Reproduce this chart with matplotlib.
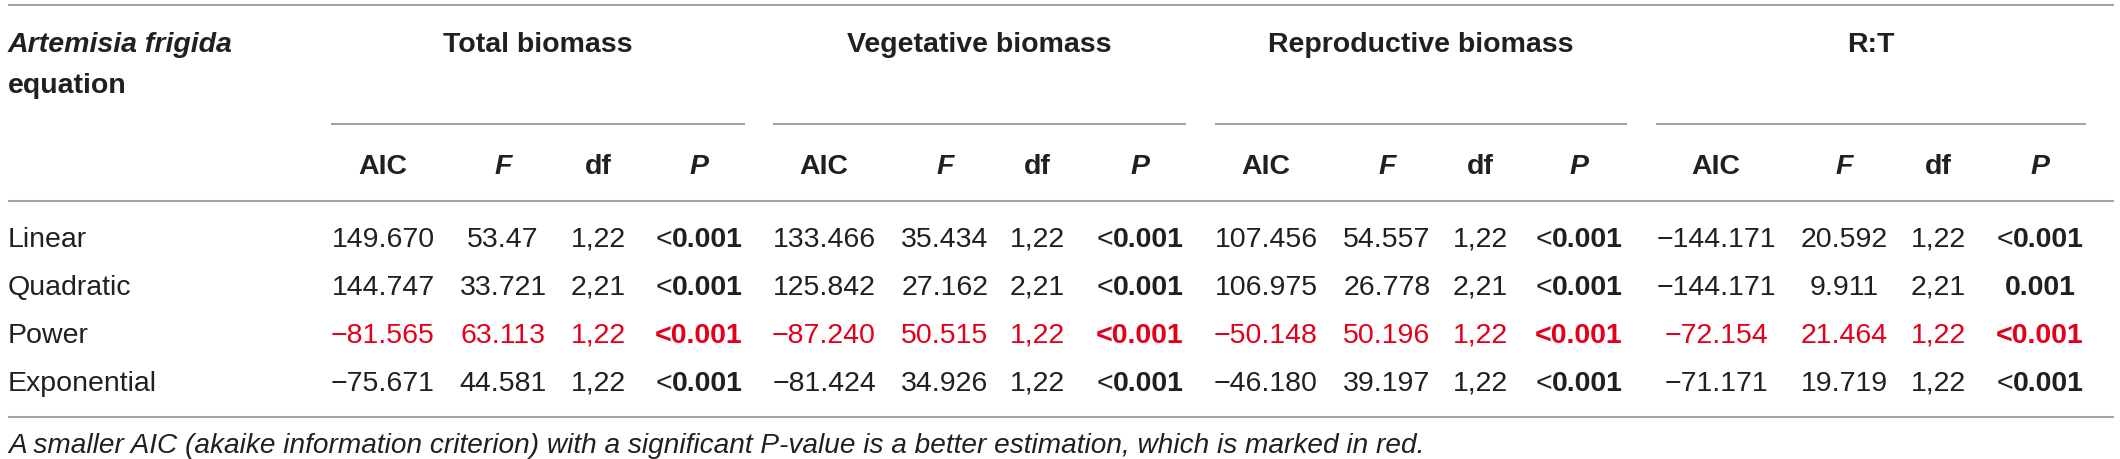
import matplotlib
matplotlib.use("Agg")
import matplotlib.pyplot as plt

# table content
models = ["Linear", "Quadratic", "Power", "Exponential"]
groups = ["Total biomass", "Vegetative biomass", "Reproductive biomass", "R:T"]
subcols = ["AIC", "F", "df", "P"]

total_aic = ["149.670", "144.747", "\u221281.565", "\u221275.671"]
total_f = ["53.47", "33.721", "63.113", "44.581"]
total_df = ["1,22", "2,21", "1,22", "1,22"]
total_p = ["<0.001", "<0.001", "<0.001", "<0.001"]

veg_aic = ["133.466", "125.842", "\u221287.240", "\u221281.424"]
veg_f = ["35.434", "27.162", "50.515", "34.926"]
veg_df = ["1,22", "2,21", "1,22", "1,22"]
veg_p = ["<0.001", "<0.001", "<0.001", "<0.001"]

rep_aic = ["107.456", "106.975", "\u221250.148", "\u221246.180"]
rep_f = ["54.557", "26.778", "50.196", "39.197"]
rep_df = ["1,22", "2,21", "1,22", "1,22"]
rep_p = ["<0.001", "<0.001", "<0.001", "<0.001"]

rt_aic = ["\u2212144.171", "\u2212144.171", "\u221272.154", "\u221271.171"]
rt_f = ["20.592", "9.911", "21.464", "19.719"]
rt_df = ["1,22", "2,21", "1,22", "1,22"]
rt_p = ["<0.001", "0.001", "<0.001", "<0.001"]

best_model = "Power"
footnote = ("A smaller AIC (akaike information criterion) with a significant "
            "P-value is a better estimation, which is marked in red.")

group_data = [
    [total_aic, total_f, total_df, total_p],
    [veg_aic, veg_f, veg_df, veg_p],
    [rep_aic, rep_f, rep_df, rep_p],
    [rt_aic, rt_f, rt_df, rt_p],
]

# layout (pixel coordinates)
W, H = 2120, 459
FONT = "Liberation Sans"
FS = 20.5
INK = "#231f20"
RED = "#e2001a"
RULE = "#a3a3a3"

line_spans = [(331, 745), (773, 1186), (1215, 1627), (1656, 2086)]
col_x = [
    [383, 503, 598, 699],
    [824, 945, 1037, 1140],
    [1266, 1387, 1480, 1579],
    [1716, 1844, 1938, 2040],
]
row_base = [247, 295, 343, 391]

fig = plt.figure(figsize=(W / 100, H / 100), dpi=100)
ax = fig.add_axes([0, 0, 1, 1])
ax.set_xlim(0, W)
ax.set_ylim(H, 0)
ax.axis("off")
renderer = fig.canvas.get_renderer()


def txt(x, y, s, **kw):
    opts = dict(family=FONT, fontsize=FS, color=INK, va="baseline", ha="center")
    opts.update(kw)
    return ax.text(x, y, s, **opts)


def width(t):
    return t.get_window_extent(renderer=renderer).width


def p_value(x, y, s, color, bold_sign):
    # "<" stays regular weight except in the highlighted row
    if s.startswith("<") and not bold_sign:
        t1 = txt(0, y, "<", ha="left", color=color)
        t2 = txt(0, y, s[1:], ha="left", color=color, weight="bold")
        w1, w2 = width(t1), width(t2)
        left = x - (w1 + w2) / 2
        t1.set_x(left)
        t2.set_x(left + w1)
    else:
        txt(x, y, s, color=color, weight="bold")


# rules
ax.hlines([5, 201, 417], 8, 2114, color=RULE, lw=1.5)
for a, b in line_spans:
    ax.hlines(124, a, b, color=RULE, lw=1.5)

# headers
txt(8, 52, "Artemisia frigida", ha="left", weight="bold", style="italic")
txt(8, 93, "equation", ha="left", weight="bold")
for g, (a, b) in enumerate(line_spans):
    txt((a + b) / 2, 52, groups[g], weight="bold")
    for c, name in enumerate(subcols):
        style = "italic" if name in ("F", "P") else "normal"
        txt(col_x[g][c], 174, name, weight="bold", style=style)

# body
for r, model in enumerate(models):
    y = row_base[r]
    best = model == best_model
    color = RED if best else INK
    txt(8, y, model, ha="left")
    for g in range(len(groups)):
        aic, f, df, p = group_data[g]
        txt(col_x[g][0], y, aic[r], color=color)
        txt(col_x[g][1], y, f[r], color=color)
        txt(col_x[g][2], y, df[r], color=color)
        p_value(col_x[g][3], y, p[r], color, best)

txt(8, 453, footnote, ha="left", style="italic", fontsize=20.2)

fig.savefig("out.png", dpi=100)
